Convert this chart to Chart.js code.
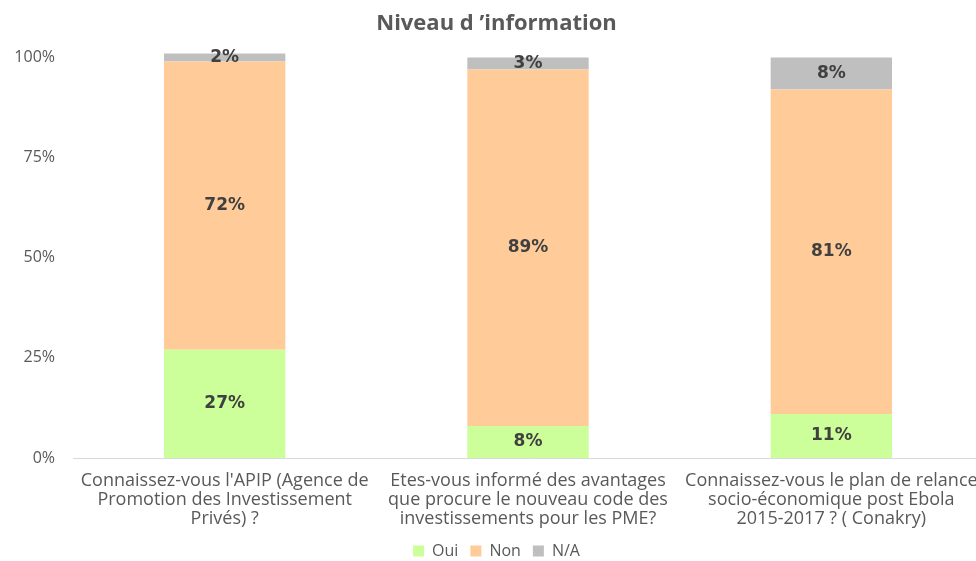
<!DOCTYPE html>
<html>
<head>
<meta charset="utf-8">
<script src="https://cdn.jsdelivr.net/npm/chart.js@4"></script>
<style>
  html, body { margin: 0; padding: 0; background: #fff; overflow: hidden; }
  #wrap { width: 976px; height: 561px; overflow: hidden; }
  #box { width: 1005px; height: 561px; }
</style>
</head>
<body>
<div id="wrap"><div id="box"><canvas id="chart"></canvas></div></div>
<script>
// Niveau d'information - stacked bars
const categories = [
    ["Connaissez-vous l'APIP (Agence de", "Promotion des Investissement", "Privés) ?"],
    ["Etes-vous informé des avantages", "que procure le nouveau code des", "investissements pour les PME?"],
    ["Connaissez-vous le plan de relance", "socio-économique post Ebola", "2015-2017 ? ( Conakry)"]
];
const oui = [27, 8, 11];
const non = [72, 89, 81];
const na = [2, 3, 8];
const yTicks = [0, 25, 50, 75, 100];

const textGray = '#595959';

// simple inline label plugin (no datalabels plugin available)
const valueLabels = {
    id: 'valueLabels',
    afterDatasetsDraw(chart) {
        const ctx = chart.ctx;
        ctx.save();
        ctx.font = 'bold 17px "DejaVu Sans"';
        ctx.fillStyle = '#404040';
        ctx.textAlign = 'center';
        ctx.textBaseline = 'middle';
        chart.data.datasets.forEach((ds, i) => {
            const meta = chart.getDatasetMeta(i);
            meta.data.forEach((bar, j) => {
                const y = (bar.y + bar.base) / 2;
                ctx.fillText(ds.data[j] + '%', bar.x, y);
            });
        });
        ctx.restore();
    }
};

new Chart(document.getElementById('chart'), {
    type: 'bar',
    data: {
        labels: categories,
        datasets: [
            { label: 'Oui', data: oui, backgroundColor: '#CCFF99', clip: false },
            { label: 'Non', data: non, backgroundColor: '#FFCC99', clip: false },
            { label: 'N/A', data: na, backgroundColor: '#BFBFBF', clip: false }
        ]
    },
    options: {
        responsive: true,
        maintainAspectRatio: false,
        animation: false,
        categoryPercentage: 1,
        barPercentage: 0.4,
        layout: { padding: { left: 10, right: 22, top: 11, bottom: 0 } },
        plugins: {
            title: {
                display: true,
                text: 'Niveau d \u2019information',
                color: textGray,
                font: { family: 'Open Sans', size: 22, weight: 'bold' },
                padding: { top: 0, bottom: 20 }
            },
            legend: {
                position: 'bottom',
                maxHeight: 30,
                labels: {
                    color: textGray,
                    font: { family: 'Open Sans', size: 16 },
                    boxWidth: 11,
                    boxHeight: 11,
                    padding: 12
                }
            },
            tooltip: { enabled: false }
        },
        scales: {
            x: {
                stacked: true,
                grid: { display: false },
                border: { color: '#D9D9D9', width: 1 },
                afterFit: (axis) => { axis.height = 73; },
                ticks: {
                    color: textGray,
                    font: { family: 'Open Sans', size: 18, lineHeight: 1.06 },
                    maxRotation: 0,
                    autoSkip: false,
                    padding: 5
                }
            },
            y: {
                stacked: true,
                min: 0,
                max: 100,
                grid: { display: false },
                border: { display: false },
                afterBuildTicks: (axis) => { axis.ticks = yTicks.map(v => ({ value: v })); },
                afterFit: (axis) => { axis.width = 63; },
                ticks: {
                    color: textGray,
                    font: { family: 'Open Sans', size: 16 },
                    padding: 10,
                    callback: (v) => v + '%'
                }
            }
        }
    },
    plugins: [valueLabels]
});
</script>
</body>
</html>
